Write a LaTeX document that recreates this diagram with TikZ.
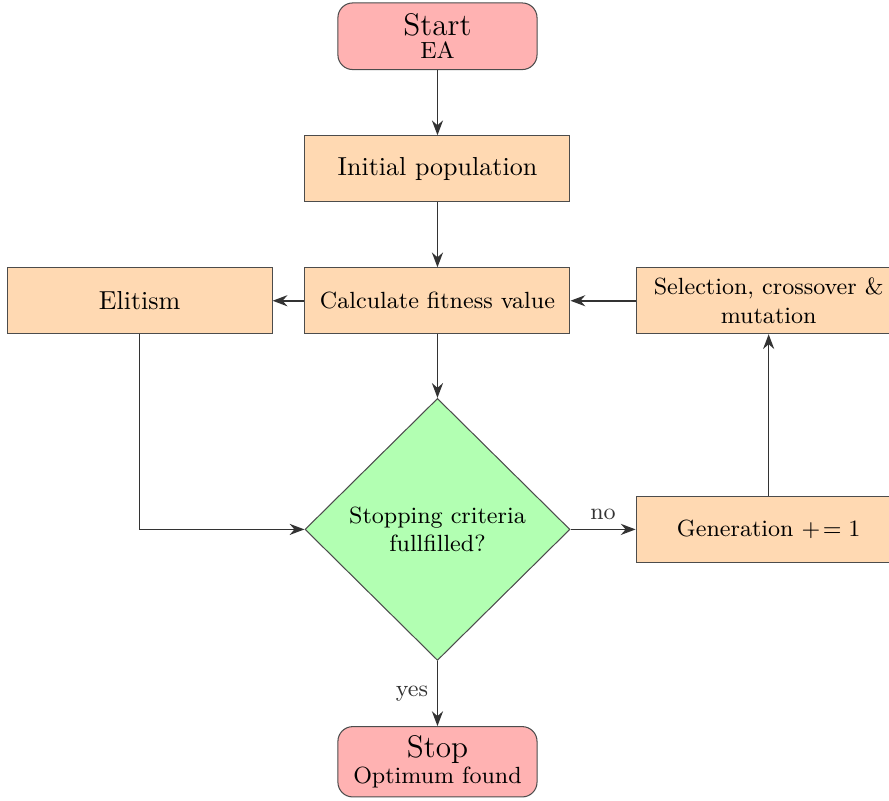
\documentclass[tikz,border=0pt]{standalone}
\usepackage{amsmath,amssymb}
\usepackage{xcolor}
\usetikzlibrary{arrows.meta, positioning, shapes.geometric}
\begin{document}
\begin{tikzpicture}[
      term/.style={draw=black!70, rounded corners=2mm, fill=red!30, align=center,
                   minimum width=2.69cm, minimum height=0.9cm, inner sep=1pt},
      proc/.style={draw=black!70, fill=orange!30, align=center,
                   minimum width=3.58cm, minimum height=0.89cm, inner sep=2pt},
      dec/.style={diamond, draw=black!70, fill=green!30, align=center,
                  minimum width=3.58cm, minimum height=3.54cm, inner sep=0pt, font=\small},
      arr/.style={-{Stealth[length=2mm]}, semithick, black!80}
    ]
      \useasboundingbox (0,0) rectangle (12.01,-10.81);
      \node[term] (start) at (5.91,-0.49) {{\large Start}\\[-3pt]{\small EA}};
      \node[proc, below=0.88cm of start] (init) {Initial population};
      \node[proc, font=\small, below=0.88cm of init] (fit) {Calculate fitness value};
      \node[proc, left=0.43cm of fit] (elit) {Elitism};
      \node[proc, font=\small, right=0.88cm of fit] (sel) {Selection, crossover \&\\ mutation};
      \node[dec, below=0.86cm of fit] (stopq) {Stopping criteria\\ fullfilled?};
      \node[proc, font=\small, right=0.88cm of stopq] (gen) {Generation $+\!=1$};
      \node[term, minimum height=0.95cm, below=0.88cm of stopq] (stop) {{\large Stop}\\[-2pt]{\small Optimum found}};
      \draw[arr] (start) -- (init);
      \draw[arr] (init)  -- (fit);
      \draw[arr] (fit)   -- (stopq);
      \draw[arr] (fit)   -- (elit);
      \draw[arr] (sel)   -- (fit);
      \draw[arr] (elit)  |- (stopq);
      \draw[arr] (stopq) -- node[midway, above, font=\small] {no} (gen);
      \draw[arr] (gen)   -- (sel);
      \draw[arr] (stopq) -- node[midway, left, font=\small] {yes} (stop);
    \end{tikzpicture}
\end{document}
